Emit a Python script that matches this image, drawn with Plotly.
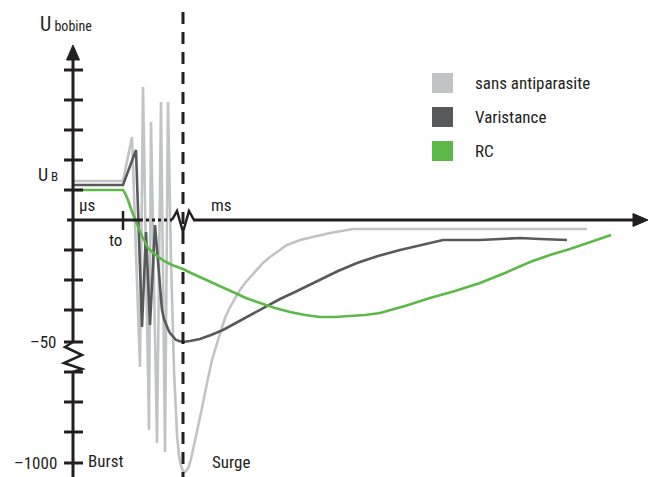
import plotly.graph_objects as go

# ---- data (schematic units: x = time, y = U_bobine; 0 = horizontal axis) ----
sans_x = [72, 123, 132, 140, 143, 149, 151, 157, 161, 165, 168, 171, 174, 177, 179, 181, 183, 185, 187, 189, 191, 193, 197, 202, 207, 212, 218, 225, 230, 235, 240, 245, 251, 257, 263, 270, 278, 287, 300, 313, 330, 353, 587]
sans_y = [39, 39, 83, -147, 133, -210, 98, -223, 118, -232, 118, -40, -150, -215, -236, -246, -251, -252, -250, -246, -239, -230, -213, -188, -163, -140, -120, -98, -87, -78, -70, -63, -56, -50, -43, -37, -31, -25, -20, -17, -13, -9, -9]

var_x = [72, 123, 136, 142, 146, 150, 155, 158, 160, 162, 164, 166, 168, 170, 173, 176, 179, 183, 190, 200, 211, 223, 234, 245, 256, 267, 280, 295, 307, 320, 338, 357, 378, 400, 420, 435, 443, 460, 480, 500, 520, 540, 567]
var_y = [35, 35, 70, -107, -12, -105, -5, -45, -72, -90, -99, -105, -109, -113, -117, -120, -121, -122, -121, -119, -115, -110, -104, -98, -92, -86, -79, -72, -66, -60, -51, -43, -36, -30, -25, -22, -20, -20, -20, -19, -18, -19, -20]

rc_x = [72, 123, 125, 128, 131, 135, 139, 142, 145, 148, 152, 157, 164, 172, 183, 191, 200, 215, 233, 246, 260, 275, 290, 305, 320, 335, 350, 365, 380, 405, 430, 455, 480, 505, 530, 550, 570, 590, 611]
rc_y = [30, 30, 27, 20, 11, 0, -9, -16, -22, -28, -32, -36, -41, -45, -49, -53, -57, -64, -72, -78, -83, -88, -92, -95, -97, -97, -96, -95, -93, -86, -78, -71, -63, -53, -42, -35, -29, -22, -15]

series_names = ["sans antiparasite", "Varistance", "RC"]
series_colors = ["#c2c3c5", "#58595b", "#5cb947"]

# vertical-axis tick positions and labels
tick_y = [150, 120, 90, 60, 30, -30, -60, -90, -122, -152, -182, -212, -243]
tick_labels = {-122: "\u201350", -243: "\u20131000"}

FONT = "Liberation Sans Narrow, Roboto Condensed, Arial Narrow, Roboto, sans-serif"
INK = "#231f20"

fig = go.Figure()
for xs, ys, c in [(sans_x, sans_y, series_colors[0]),
                  (var_x, var_y, series_colors[1]),
                  (rc_x, rc_y, series_colors[2])]:
    fig.add_trace(go.Scatter(x=xs, y=ys, mode="lines", line=dict(color=c, width=2.6),
                             showlegend=False, hoverinfo="skip"))

shapes = []
# vertical axis (broken by zigzag)
shapes.append(dict(type="line", x0=73, x1=73, y0=162, y1=-122, line=dict(color=INK, width=3)))
shapes.append(dict(type="line", x0=73, x1=73, y0=-152, y1=-260, line=dict(color=INK, width=3)))
shapes.append(dict(type="path", path="M 73 175 L 66.5 160 L 79.5 160 Z", fillcolor=INK, line=dict(color=INK, width=1)))
shapes.append(dict(type="path", path="M 73 -122 L 65 -127 L 82 -135 L 64 -143 L 82 -149 L 73 -152",
                   line=dict(color=INK, width=2.5)))
for ty in tick_y:
    shapes.append(dict(type="line", x0=64, x1=83, y0=ty, y1=ty, line=dict(color=INK, width=3)))

# horizontal axis
shapes.append(dict(type="line", x0=67, x1=140, y0=0, y1=0, line=dict(color=INK, width=3)))
shapes.append(dict(type="line", x0=140, x1=172, y0=0, y1=0, line=dict(color=INK, width=3, dash="dot")))
shapes.append(dict(type="path", path="M 172 0 L 177 9 L 183 -12 L 189 9 L 194 0", line=dict(color=INK, width=2.5)))
shapes.append(dict(type="line", x0=193, x1=636, y0=0, y1=0, line=dict(color=INK, width=3)))
shapes.append(dict(type="path", path="M 648 0 L 633 6.5 L 633 -6.5 Z", fillcolor=INK, line=dict(color=INK, width=1)))
# t0 tick
shapes.append(dict(type="line", x0=123, x1=123, y0=9, y1=-10, line=dict(color=INK, width=2.5)))
# dashed separator burst / surge
shapes.append(dict(type="line", x0=183, x1=183, y0=208, y1=-260, line=dict(color=INK, width=3, dash="12px,8px")))

# legend squares
for i, c in enumerate(series_colors):
    top = 147 - i * 34
    shapes.append(dict(type="rect", x0=432, x1=453, y0=top, y1=top - 20, fillcolor=c, line=dict(width=0)))

ann = []
def txt(x, y, s, size=17, xanchor="center"):
    ann.append(dict(x=x, y=y, text=s, showarrow=False, xanchor=xanchor, yanchor="middle",
                    font=dict(family=FONT, size=size, color=INK)))

for i, name in enumerate(series_names):
    txt(473, 137 - i * 34, name, 17, "left")
txt(38, 196, "U<span style='font-size:14px'> bobine</span>", 20, "left")
txt(36, 46, "U<span style='font-size:13px'> B</span>", 18, "left")
txt(87, 15, "\u00b5s", 17)
txt(115, -20, "to", 17)
txt(221, 15, "ms", 17)
for ty, lab in tick_labels.items():
    txt(59, ty, lab, 17, "right")
txt(86, -241, "Burst", 17, "left")
txt(210, -242, "Surge", 17, "left")

fig.update_layout(width=656, height=477, margin=dict(l=0, r=0, t=0, b=0),
                  paper_bgcolor="white", plot_bgcolor="white",
                  xaxis=dict(range=[0, 656], visible=False, fixedrange=True),
                  yaxis=dict(range=[-257, 220], visible=False, fixedrange=True),
                  shapes=shapes, annotations=ann, showlegend=False)
fig.write_html("out.html", config={"displayModeBar": False},
               post_script="document.body.style.margin='0';document.body.style.overflow='hidden';")
